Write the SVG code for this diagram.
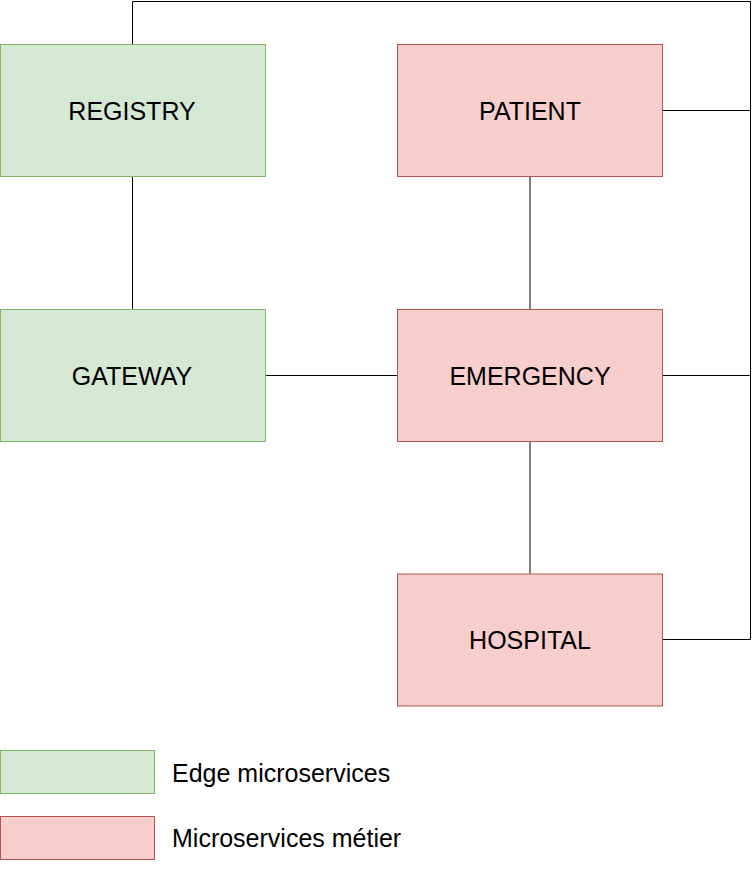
<svg xmlns="http://www.w3.org/2000/svg" width="752" height="873" viewBox="0 0 752 873">
<style>
.green{fill:#d5e8d4;stroke:#82b366;stroke-width:1}
.red{fill:#f8cecc;stroke:#b85450;stroke-width:1}
.lbl{font-family:"Liberation Sans",Arial,sans-serif;font-size:25px;fill:#000;text-anchor:middle}
.leg{font-family:"Liberation Sans",Arial,sans-serif;font-size:25px;fill:#000}
.conn{fill:none;stroke:#000;stroke-width:1}
</style>
<rect width="752" height="873" fill="#fff"/>
<g id="connectors">
<path class="conn" d="M132.5 44.5 V1.5 H750.5 V639.5 H662.5"/>
<path class="conn" d="M662.5 110.5 H750.5"/>
<path class="conn" d="M662.5 375.5 H750.5"/>
<path class="conn" d="M132.5 176.5 V309.5"/>
<path class="conn" d="M530 176.5 V309.5"/>
<path class="conn" d="M265.5 375.5 H397.5"/>
<path class="conn" d="M530 441.5 V574"/>
</g>
<g id="registry"><rect class="green" x="0.5" y="44.5" width="265" height="132"/><text class="lbl" x="132" y="119.5">REGISTRY</text></g>
<g id="patient"><rect class="red" x="397.5" y="44.5" width="265" height="132"/><text class="lbl" x="530" y="119.5">PATIENT</text></g>
<g id="gateway"><rect class="green" x="0.5" y="309.5" width="265" height="132"/><text class="lbl" x="132" y="384.5">GATEWAY</text></g>
<g id="emergency"><rect class="red" x="397.5" y="309.5" width="265" height="132"/><text class="lbl" x="530" y="384.5">EMERGENCY</text></g>
<g id="hospital"><rect class="red" x="397.5" y="574" width="265" height="132"/><text class="lbl" x="530" y="649">HOSPITAL</text></g>
<g id="legend-edge"><rect class="green" x="0.5" y="750.5" width="154" height="43"/><text class="leg" x="172" y="781.5">Edge microservices</text></g>
<g id="legend-metier"><rect class="red" x="0.5" y="816.5" width="154" height="43"/><text class="leg" x="172" y="847">Microservices métier</text></g>
</svg>
